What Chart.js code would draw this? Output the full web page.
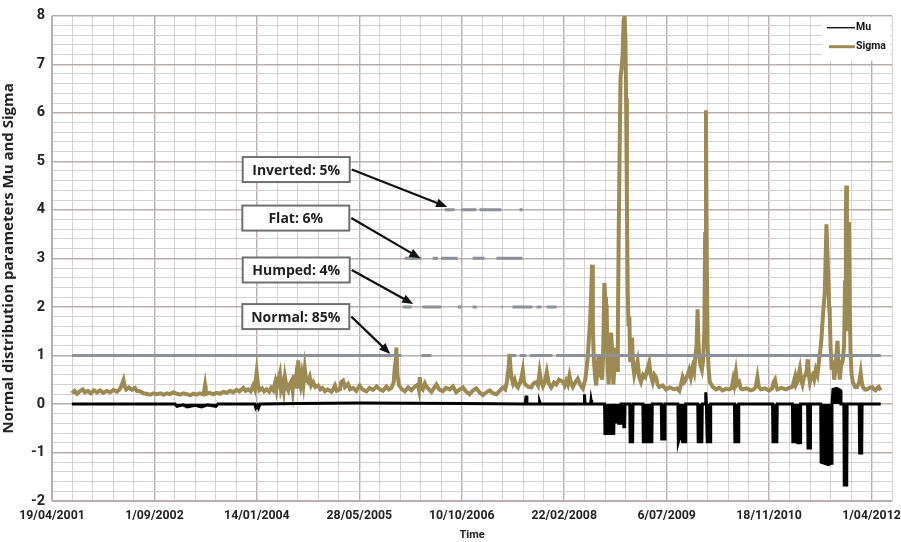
<!DOCTYPE html>
<html>
<head>
<meta charset="utf-8">
<script src="https://cdn.jsdelivr.net/npm/chart.js@4.4.1/dist/chart.umd.min.js"></script>
<style>
  html, body { margin: 0; padding: 0; background: #fff; }
  #wrap { width: 901px; height: 542px; }
</style>
</head>
<body>
<div id="wrap"><canvas id="chart" width="901" height="542"></canvas></div>
<script>
// x values are days since 19/04/2001
const tickLabels = ['19/04/2001', '1/09/2002', '14/01/2004', '28/05/2005', '10/10/2006',
    '22/02/2008', '6/07/2009', '18/11/2010', '1/04/2012'];

const sigma = [
    [97,0.22],[110,0.27],[122,0.21],[135,0.26],[150,0.3],[160,0.24],[175,0.27],[190,0.22],[205,0.28],
    [219,0.24],[235,0.28],[250,0.23],[268,0.27],[285,0.24],[300,0.29],[317,0.25],[330,0.3],[340,0.38],
    [349,0.49],[355,0.36],[362,0.3],[375,0.34],[390,0.29],[405,0.33],[414,0.27],[430,0.26],[446,0.22],
    [460,0.21],[479,0.19],[495,0.22],[510,0.2],[530,0.22],[544,0.19],[560,0.22],[575,0.2],[593,0.24],
    [610,0.21],[625,0.19],[641,0.22],[660,0.2],[675,0.18],[690,0.21],[705,0.19],[720,0.22],[739,0.2],
    [744,0.3],[747,0.38],[750,0.28],[755,0.21],[770,0.23],[785,0.2],[804,0.23],[820,0.21],[836,0.25],
    [853,0.23],[870,0.27],[885,0.24],[901,0.29],[915,0.26],[934,0.33],[945,0.27],[958,0.3],[970,0.26],
    [982,0.38],[990,0.3],[999,0.65],[1005,0.4],[1012,0.28],[1025,0.32],[1035,0.26],[1048,0.3],
    [1060,0.25],[1070,0.33],[1080,0.28],[1090,0.45],[1096,0.3],[1104,0.5],[1112,0.63],[1118,0.3],
    [1126,0.42],[1131,0.28],[1137,0.55],[1145,0.35],[1153,0.28],[1160,0.4],[1170,0.48],[1175,0.3],
    [1181,0.6],[1186,0.35],[1190,0.5],[1196,0.32],[1202,0.9],[1207,0.5],[1213,0.38],[1220,0.6],
    [1227,0.4],[1234,0.72],[1240,0.5],[1250,0.45],[1258,0.55],[1265,0.38],[1275,0.45],[1285,0.35],
    [1299,0.38],[1310,0.3],[1320,0.33],[1332,0.26],[1345,0.3],[1364,0.25],[1372,0.3],[1381,0.38],
    [1390,0.27],[1405,0.3],[1412,0.45],[1421,0.48],[1430,0.35],[1445,0.41],[1455,0.3],[1470,0.33],
    [1485,0.27],[1502,0.38],[1515,0.3],[1535,0.26],[1550,0.33],[1567,0.29],[1585,0.36],[1600,0.3],
    [1615,0.27],[1632,0.36],[1645,0.3],[1657,0.33],[1668,0.45],[1673,0.75],[1678,0.9],[1681,1.16],
    [1686,0.6],[1694,0.38],[1708,0.3],[1722,0.26],[1738,0.34],[1754,0.28],[1770,0.35],[1786,0.4],
    [1791,0.3],[1795,0.55],[1800,0.35],[1810,0.3],[1820,0.42],[1827,0.36],[1840,0.3],[1852,0.25],
    [1865,0.33],[1876,0.4],[1890,0.3],[1908,0.26],[1922,0.33],[1941,0.3],[1957,0.36],[1973,0.24],
    [1990,0.3],[2006,0.34],[2020,0.26],[2038,0.2],[2055,0.28],[2071,0.32],[2087,0.24],[2103,0.18],
    [2120,0.24],[2136,0.28],[2152,0.22],[2169,0.2],[2185,0.27],[2201,0.34],[2212,0.3],[2220,0.45],
    [2225,0.62],[2230,0.8],[2233,1.03],[2238,0.75],[2242,0.55],[2250,0.42],[2258,0.5],[2266,0.38],
    [2274,0.34],[2285,0.45],[2292,0.55],[2298,0.69],[2304,0.45],[2311,0.4],[2325,0.35],[2339,0.34],
    [2350,0.42],[2363,0.45],[2372,0.38],[2380,0.66],[2388,0.45],[2396,0.36],[2405,0.45],[2415,0.66],
    [2425,0.42],[2437,0.34],[2450,0.44],[2461,0.4],[2475,0.5],[2493,0.46],[2502,0.38],[2510,0.48],
    [2518,0.4],[2526,0.58],[2534,0.42],[2542,0.35],[2555,0.45],[2566,0.52],[2578,0.4],[2591,0.32],
    [2603,0.5],[2610,0.75],[2615,0.98],[2620,1.3],[2627,1.77],[2632,2.3],[2636,2.87],[2640,1.6],
    [2644,0.98],[2650,0.6],[2656,0.38],[2662,0.7],[2667,0.55],[2672,0.98],[2678,0.7],[2685,0.5],
    [2690,1.0],[2696,2.49],[2700,2.2],[2704,1.2],[2707,2.05],[2712,0.8],[2717,0.4],[2722,0.9],
    [2729,1.47],[2734,1.1],[2740,0.4],[2746,0.8],[2753,1.16],[2758,0.7],[2762,1.5],[2766,3.5],
    [2770,5.0],[2775,6.75],[2780,6.9],[2785,7.2],[2790,7.9],[2795,8.0],[2799,7.5],[2802,6.3],
    [2806,4.2],[2810,2.36],[2814,1.6],[2818,1.8],[2822,0.9],[2826,1.2],[2831,1.37],[2836,0.8],
    [2842,0.6],[2850,0.75],[2858,0.89],[2866,0.55],[2875,0.45],[2885,0.6],[2896,0.55],[2905,0.7],
    [2915,0.85],[2922,0.6],[2932,0.45],[2940,0.6],[2948,0.55],[2956,0.4],[2964,0.35],[2980,0.38],
    [2997,0.3],[3015,0.34],[3037,0.3],[3050,0.32],[3062,0.27],[3070,0.4],[3078,0.55],[3086,0.45],
    [3094,0.5],[3102,0.6],[3110,0.7],[3118,0.55],[3127,0.75],[3134,0.65],[3140,0.98],[3146,1.2],
    [3151,1.95],[3155,1.3],[3159,0.98],[3165,0.8],[3172,0.7],[3178,0.9],[3184,1.5],[3188,3.5],
    [3192,6.05],[3196,3.0],[3200,1.2],[3205,0.7],[3211,0.45],[3225,0.35],[3241,0.3],[3257,0.33],
    [3273,0.28],[3290,0.31],[3305,0.3],[3318,0.33],[3325,0.5],[3330,0.4],[3338,0.64],[3344,0.4],
    [3354,0.45],[3362,0.32],[3370,0.3],[3390,0.32],[3411,0.28],[3425,0.3],[3435,0.35],[3443,0.55],
    [3450,0.35],[3460,0.3],[3480,0.32],[3500,0.28],[3515,0.32],[3522,0.45],[3529,0.5],[3535,0.35],
    [3541,0.3],[3560,0.33],[3582,0.3],[3598,0.33],[3614,0.35],[3620,0.45],[3627,0.56],[3632,0.4],
    [3638,0.45],[3644,0.6],[3650,0.72],[3656,0.5],[3663,0.4],[3670,0.55],[3679,0.6],[3684,0.7],
    [3689,0.92],[3694,0.6],[3699,0.45],[3705,0.55],[3712,0.6],[3720,0.5],[3728,0.7],[3736,0.6],
    [3744,0.9],[3750,1.1],[3755,1.3],[3760,1.64],[3766,2.0],[3772,2.3],[3776,3.0],[3780,3.7],
    [3784,3.2],[3789,2.6],[3793,2.0],[3796,1.85],[3800,1.2],[3806,0.7],[3812,0.9],[3818,0.5],
    [3826,0.8],[3830,1.1],[3834,1.3],[3838,0.9],[3845,0.5],[3852,0.8],[3860,0.9],[3866,1.2],
    [3871,2.5],[3875,4.0],[3877,4.5],[3880,3.0],[3884,1.5],[3887,2.5],[3890,3.75],[3894,2.0],
    [3898,1.0],[3903,0.6],[3909,0.45],[3920,0.35],[3930,0.35],[3940,0.45],[3947,0.64],[3952,0.45],
    [3958,0.35],[3968,0.3],[3979,0.3],[3990,0.33],[4003,0.35],[4012,0.3],[4019,0.28],[4028,0.33],
    [4035,0.35],[4045,0.28]
];

const mu = [
    [97,0],[600,0],[610,-0.05],[640,-0.02],[660,-0.06],[700,-0.03],[730,-0.06],[760,-0.02],[800,-0.05],
    [810,0],[990,0],[995,-0.08],[1003,-0.03],[1008,-0.08],[1015,0],[1200,0.01],[1500,0.02],[2000,0.01],
    [2310,0],[2314,0.17],[2318,0],[2378,0],[2380,0.05],[2384,0],[2597,0],[2599,0.2],[2602,0],
    [2629,0],[2631,0.08],[2634,0],
    [2697,0],[2699,-0.61],[2742,-0.61],[2744,0],[2756,-0.4],[2760,-0.1],[2765,-0.4],[2776,-0.4],
    [2778,0],[2789,0],[2791,-0.47],[2795,-0.47],[2797,0],
    [2820,0],[2822,-0.78],[2834,-0.78],[2836,0],
    [2884,0],[2886,-0.78],[2899,-0.78],[2901,0],[2909,-0.78],[2928,-0.78],[2930,0],
    [2974,0],[2976,-0.72],[2990,-0.72],[2992,0],
    [3055,0],[3057,-0.78],[3068,-0.6],[3078,-0.78],[3091,-0.78],[3093,0],
    [3152,0],[3154,-0.78],[3172,-0.78],[3174,0],
    [3189,0],[3191,0.24],[3194,0],[3198,-0.78],[3213,-0.78],[3215,0],
    [3331,0],[3333,-0.78],[3350,-0.78],[3352,0],
    [3517,0],[3519,-0.78],[3538,-0.78],[3540,0],
    [3614,0],[3616,-0.78],[3627,-0.78],[3629,0],[3640,-0.8],[3652,-0.8],[3654,0],
    [3688,0],[3690,-0.91],[3700,-0.91],[3702,0],
    [3752,0],[3754,-1.2],[3790,-1.25],[3805,-1.22],[3807,0],[3812,0.3],[3830,0.32],[3848,0.28],[3851,0],
    [3865,0],[3867,-1.67],[3879,-1.67],[3881,0],
    [3940,0],[3942,-1.01],[3952,-1.01],[3954,0],[4045,0]
];

// yield curve shape regimes: [start day, end day]
const normalSpans = [[97,1706],[1803,1852],[2233,2266],[2282,2315],[2331,2443],[2461,4045]];
const humpedSpans = [[1712,1756],[1808,1900],[1980,2000],[2053,2073],[2194,2199],[2248,2345],[2365,2389],[2414,2463]];
const flatSpans = [[1722,1803],[1858,1883],[1900,1980],[2053,2111],[2169,2297]];
const invertedSpans = [[1917,1965],[1998,2071],[2087,2193],[2282,2297]];

const regimes = [
    { label: 'Normal: 85%', level: 1, spans: normalSpans, tip: [1651, 1.03], box: [1190, 1.8] },
    { label: 'Humped: 4%', level: 2, spans: humpedSpans, tip: [1763, 2.06], box: [1192, 2.76] },
    { label: 'Flat: 6%', level: 3, spans: flatSpans, tip: [1798, 3.0], box: [1190, 3.83] },
    { label: 'Inverted: 5%', level: 4, spans: invertedSpans, tip: [1929, 4.06], box: [1192, 4.83] }
];

const SIGMA_COLOR = '#9c8a52';
const REGIME_COLOR = '#8b9099';
const GRID_MAJOR = '#b9adad';
const GRID_MINOR = '#d9d0d0';

function spansToPoints(spans, level) {
    const pts = [];
    spans.forEach(s => {
        pts.push({ x: s[0], y: level }, { x: s[1], y: level }, { x: s[1] + 1, y: null });
    });
    return pts;
}

const isInt = v => Math.abs(v - Math.round(v)) < 1e-6;

const datasets = [{
    label: 'Mu',
    data: mu.map(p => ({ x: p[0], y: p[1] })),
    borderColor: '#000',
    backgroundColor: '#000',
    borderWidth: 3,
    fill: 'origin',
    pointRadius: 0
}];
regimes.forEach(r => {
    datasets.push({
        label: r.label,
        data: spansToPoints(r.spans, r.level),
        borderColor: REGIME_COLOR,
        borderWidth: 3,
        borderCapStyle: 'butt',
        fill: false,
        pointRadius: 0,
        spanGaps: false
    });
});
datasets.push({
    label: 'Sigma',
    data: sigma.map(p => ({ x: p[0], y: p[1] })),
    borderColor: SIGMA_COLOR,
    borderWidth: 4,
    borderJoinStyle: 'miter',
    fill: false,
    pointRadius: 0
});

// text boxes with arrows + legend in the top right corner
const overlayPlugin = {
    id: 'overlay',
    afterDraw(chart) {
        const { ctx, scales: { x, y } } = chart;
        ctx.save();
        regimes.forEach(r => {
            const bx = x.getPixelForValue(r.box[0]);
            const by = y.getPixelForValue(r.box[1]);
            const w = 107, h = 25;
            const left = bx - w / 2, top = by - h / 2;
            ctx.fillStyle = '#fff';
            ctx.fillRect(left, top, w, h);
            ctx.strokeStyle = '#707070';
            ctx.lineWidth = 2;
            ctx.strokeRect(left, top, w, h);
            ctx.fillStyle = '#1e1e1e';
            ctx.font = 'bold 14px "Open Sans"';
            ctx.textAlign = 'center';
            ctx.textBaseline = 'middle';
            ctx.fillText(r.label, bx, by + 1);

            // arrow
            const sx = left + w + 2, sy = by;
            const tx = x.getPixelForValue(r.tip[0]);
            const ty = y.getPixelForValue(r.tip[1]);
            const ang = Math.atan2(ty - sy, tx - sx);
            const head = 11;
            ctx.strokeStyle = '#111';
            ctx.lineWidth = 2.2;
            ctx.beginPath();
            ctx.moveTo(sx, sy);
            ctx.lineTo(tx - Math.cos(ang) * head * 0.8, ty - Math.sin(ang) * head * 0.8);
            ctx.stroke();
            ctx.fillStyle = '#111';
            ctx.beginPath();
            ctx.moveTo(tx, ty);
            ctx.lineTo(tx - head * Math.cos(ang) + 4.5 * Math.sin(ang), ty - head * Math.sin(ang) - 4.5 * Math.cos(ang));
            ctx.lineTo(tx - head * Math.cos(ang) - 4.5 * Math.sin(ang), ty - head * Math.sin(ang) + 4.5 * Math.cos(ang));
            ctx.closePath();
            ctx.fill();
        });

        // legend
        const lx = chart.chartArea.right - 70, ly = chart.chartArea.top + 1;
        ctx.fillStyle = '#fff';
        ctx.fillRect(lx, ly, 68, 44);
        ctx.font = 'bold 10.5px Roboto';
        ctx.textAlign = 'left';
        ctx.textBaseline = 'middle';
        ctx.strokeStyle = '#000';
        ctx.lineWidth = 1.3;
        ctx.beginPath();
        ctx.moveTo(lx + 5, ly + 11);
        ctx.lineTo(lx + 33, ly + 11);
        ctx.stroke();
        ctx.fillStyle = '#111';
        ctx.fillText('Mu', lx + 34, ly + 11);
        ctx.strokeStyle = SIGMA_COLOR;
        ctx.lineWidth = 3;
        ctx.beginPath();
        ctx.moveTo(lx + 7, ly + 30);
        ctx.lineTo(lx + 33, ly + 30);
        ctx.stroke();
        ctx.fillText('Sigma', lx + 34, ly + 30);
        ctx.restore();
    }
};

new Chart(document.getElementById('chart'), {
    type: 'line',
    data: { datasets: datasets },
    options: {
        responsive: false,
        animation: false,
        layout: { padding: { top: 12, right: 9, left: 0, bottom: 0 } },
        plugins: {
            legend: { display: false },
            tooltip: { enabled: false }
        },
        elements: { line: { tension: 0 } },
        scales: {
            x: {
                type: 'linear',
                min: 0,
                max: 4100,
                afterFit: s => { s.height = 41; },
                ticks: {
                    stepSize: 100,
                    autoSkip: false,
                    maxRotation: 0,
                    padding: 8,
                    color: '#222',
                    font: { family: 'Roboto', weight: 'bold', size: 12.3 },
                    callback: v => (v % 500 === 0 ? tickLabels[v / 500] : '')
                },
                grid: {
                    drawTicks: false,
                    color: c => (c.tick && c.tick.value % 500 === 0 ? GRID_MAJOR : GRID_MINOR),
                    lineWidth: c => (c.tick && c.tick.value % 500 === 0 ? 1.4 : 1)
                },
                border: { color: GRID_MAJOR },
                title: {
                    display: true,
                    text: 'Time',
                    color: '#222',
                    font: { family: 'Roboto', weight: 'bold', size: 11 },
                    padding: { top: 0, bottom: 0 }
                }
            },
            y: {
                min: -2,
                max: 8,
                afterFit: s => { s.width = 52; },
                ticks: {
                    stepSize: 0.2,
                    autoSkip: false,
                    padding: 7,
                    color: '#222',
                    font: { family: 'Roboto', weight: 'bold', size: 14.5 },
                    callback: v => (isInt(v) ? Math.round(v) : '')
                },
                grid: {
                    drawTicks: false,
                    color: c => (c.tick && isInt(c.tick.value) ? GRID_MAJOR : GRID_MINOR),
                    lineWidth: c => (c.tick && isInt(c.tick.value) ? 1.4 : 1)
                },
                border: { color: GRID_MAJOR },
                title: {
                    display: true,
                    text: 'Normal distribution parameters Mu and Sigma',
                    color: '#222',
                    font: { family: 'Open Sans', weight: 'bold', size: 15 },
                    padding: { top: 0, bottom: 3 }
                }
            }
        }
    },
    plugins: [overlayPlugin]
});
</script>
</body>
</html>
